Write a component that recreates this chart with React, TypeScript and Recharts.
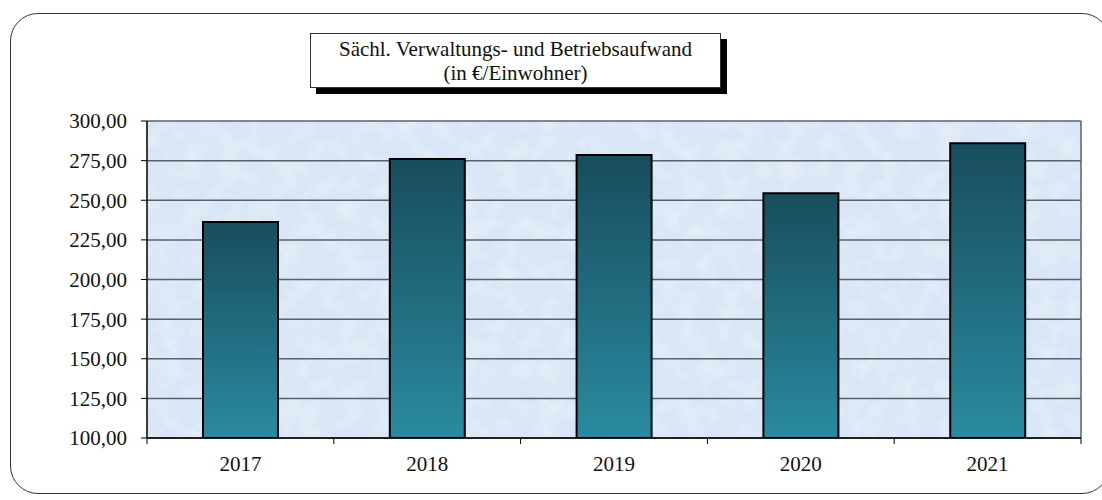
import { BarChart, Bar, XAxis, YAxis, CartesianGrid } from 'recharts';

const years = ['2017', '2018', '2019', '2020', '2021'];
const amounts = [236.3, 276.0, 278.5, 254.4, 285.9];
const yTicks = [100, 125, 150, 175, 200, 225, 250, 275, 300];

const data = years.map((year, i) => ({ year, value: amounts[i] }));

const FONT = '"Liberation Serif", "Times New Roman", serif';
const W = 1102;
const H = 500;
const PLOT_LEFT = 147;
const PLOT_RIGHT = 21;

const fmt = (v: number) => v.toFixed(2).replace('.', ',');

function YearTick(props: any) {
    const { x, y, payload, index } = props;
    const band = payload && payload.offset ? payload.offset * 2 : (W - PLOT_LEFT - PLOT_RIGHT) / years.length;
    const axisY = y - 8;
    return (
        <g>
            {index === 0 && (
                <line x1={x - band / 2} x2={x - band / 2} y1={axisY} y2={axisY + 6} stroke="#000" />
            )}
            <line x1={x + band / 2} x2={x + band / 2} y1={axisY} y2={axisY + 6} stroke="#000" />
            <text x={x} y={axisY + 33} textAnchor="middle" fontFamily={FONT} fontSize={21} fill="#111">
                {payload.value}
            </text>
        </g>
    );
}

export default function App() {
    return (
        <div style={{ position: 'absolute', left: 0, top: 0, width: W, height: H, background: '#fff', fontFamily: FONT }}>
            {/* outer frame */}
            <div
                style={{
                    position: 'absolute',
                    left: 10,
                    top: 13,
                    width: 1100,
                    height: 481,
                    border: '1.5px solid #333',
                    borderRadius: 28,
                    boxSizing: 'border-box',
                }}
            />

            <BarChart
                width={W}
                height={H}
                data={data}
                margin={{ top: 121, right: PLOT_RIGHT, bottom: 0, left: 0 }}
                style={{ position: 'absolute', left: 0, top: 0 }}
            >
                <defs>
                    <linearGradient id="barGrad" x1="0" y1="0" x2="0" y2="1">
                        <stop offset="0%" stopColor="#184d5c" />
                        <stop offset="100%" stopColor="#2a8aa1" />
                    </linearGradient>
                    <filter id="noise" x="0" y="0" width="100%" height="100%">
                        <feTurbulence type="fractalNoise" baseFrequency="0.05" numOctaves={4} seed={7} />
                        <feColorMatrix
                            type="matrix"
                            values="0 0 0 0 1  0 0 0 0 1  0 0 0 0 1  1.6 0 0 0 -0.65"
                        />
                    </filter>
                    <pattern id="paper" patternUnits="userSpaceOnUse" x="0" y="0" width={W} height={H}>
                        <rect width={W} height={H} fill="#d8e6f5" />
                        <rect width={W} height={H} filter="url(#noise)" opacity={0.45} />
                    </pattern>
                </defs>
                <CartesianGrid
                    vertical
                    horizontal
                    fill="url(#paper)"
                    fillOpacity={1}
                    stroke="#5a6068"
                    strokeWidth={1.5}
                    verticalCoordinatesGenerator={({ offset }: any) => [offset.left + offset.width]}
                />
                <XAxis
                    dataKey="year"
                    height={62}
                    interval={0}
                    axisLine={{ stroke: '#000', strokeWidth: 1.5 }}
                    tickLine={false}
                    tickSize={6}
                    tickMargin={2}
                    tick={<YearTick />}
                />
                <YAxis
                    width={PLOT_LEFT}
                    domain={[100, 300]}
                    ticks={yTicks}
                    interval={0}
                    allowDataOverflow
                    tickFormatter={fmt}
                    axisLine={{ stroke: '#000', strokeWidth: 1.5 }}
                    tickLine={{ stroke: '#000' }}
                    tickSize={6}
                    tickMargin={14}
                    tick={{ fontFamily: FONT, fontSize: 21, fill: '#111' }}
                />
                <Bar
                    dataKey="value"
                    fill="url(#barGrad)"
                    stroke="#000"
                    strokeWidth={2}
                    barSize={75}
                    isAnimationActive={false}
                />
            </BarChart>

            {/* title box */}
            <div
                style={{
                    position: 'absolute',
                    left: 310,
                    top: 33,
                    width: 411,
                    height: 55,
                    boxSizing: 'border-box',
                    border: '1px solid #333',
                    background: '#fff',
                    boxShadow: '6px 6px 0 #000',
                    textAlign: 'center',
                    fontSize: 21,
                    lineHeight: '24px',
                    paddingTop: 3,
                    color: '#111',
                    whiteSpace: 'nowrap',
                }}
            >
                <div>Sächl. Verwaltungs- und Betriebsaufwand</div>
                <div>(in €/Einwohner)</div>
            </div>
        </div>
    );
}
